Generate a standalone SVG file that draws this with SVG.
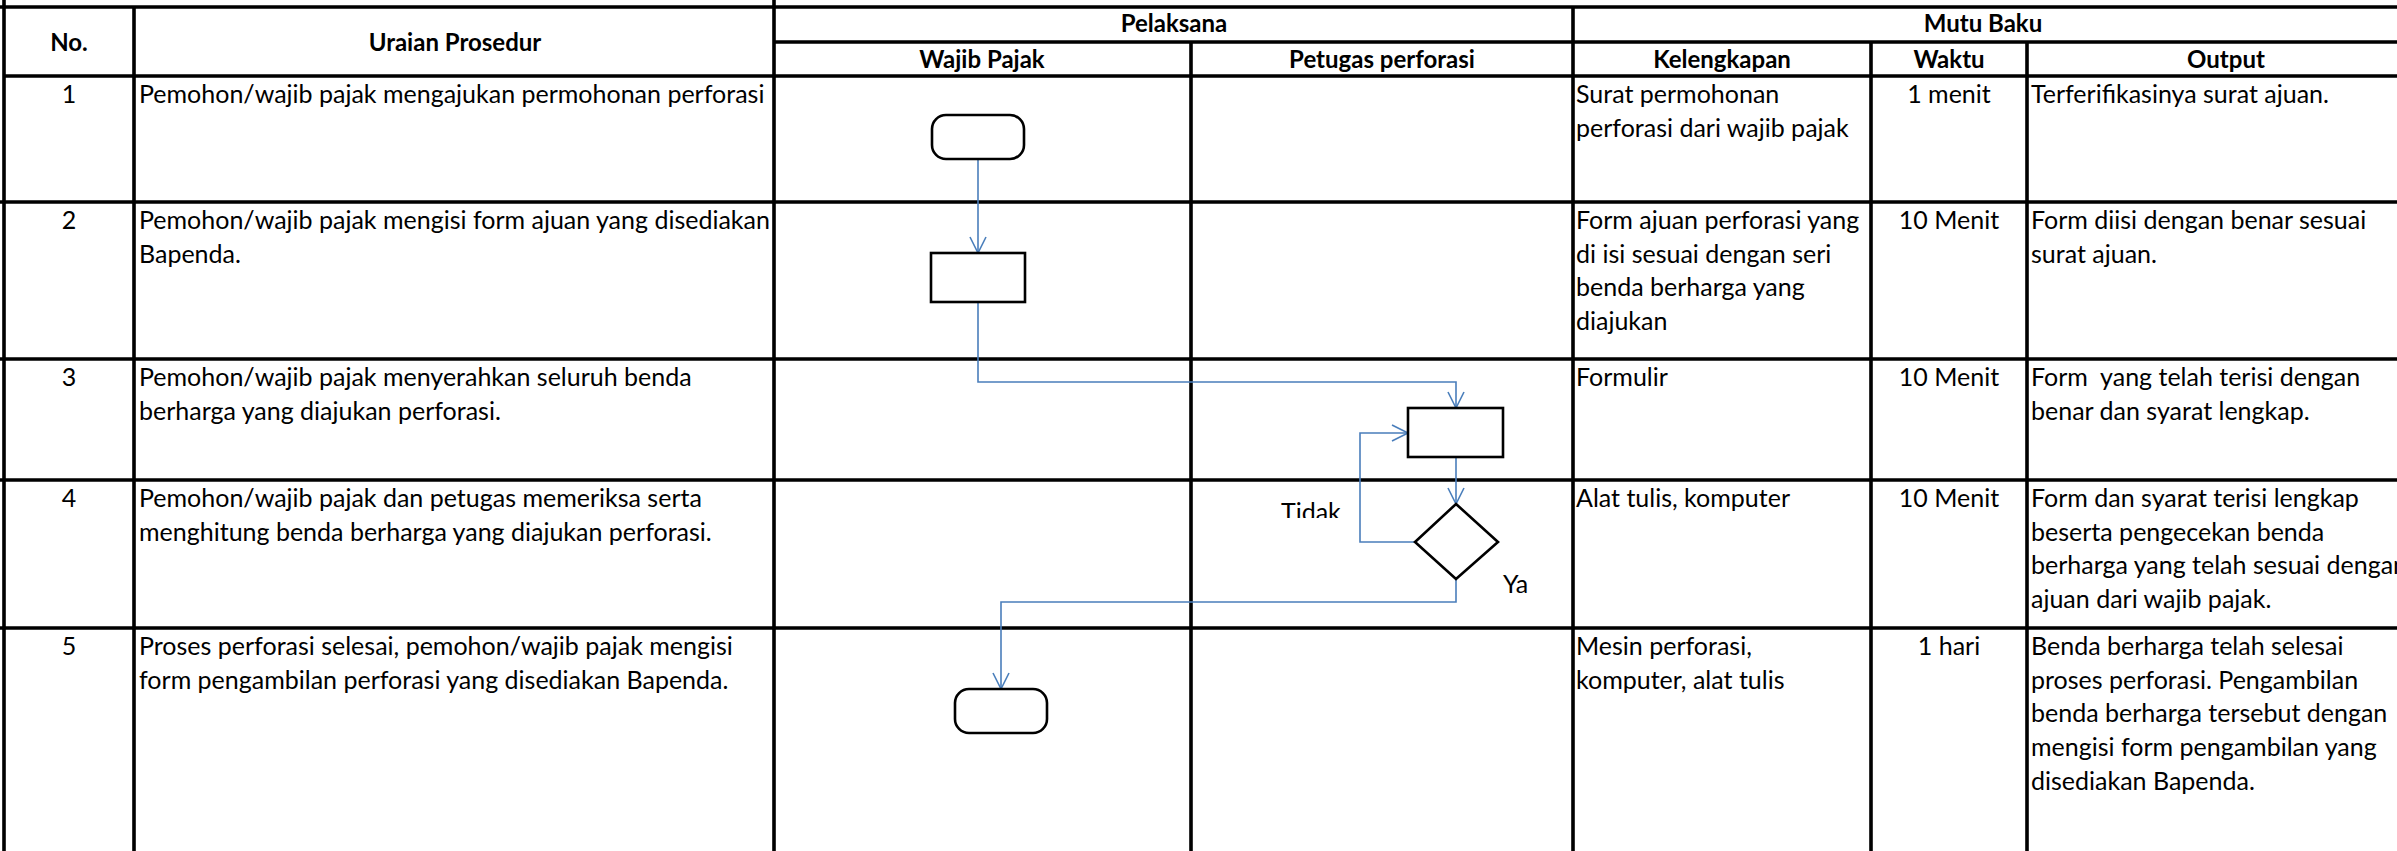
<svg xmlns="http://www.w3.org/2000/svg" width="2397" height="851" viewBox="0 0 2397 851">
<style>
.grid{stroke:#000;stroke-width:3.6;fill:none}
.t{font-family:Lato,"Liberation Sans",sans-serif;font-size:25px;fill:#000}
.h{font-family:Lato,"Liberation Sans",sans-serif;font-size:24px;font-weight:bold;fill:#000;text-anchor:middle}
.c{text-anchor:middle}
.shape{fill:#fff;stroke:#000;stroke-width:2.6}
.conn{fill:none;stroke:#4A7EBB;stroke-width:1.6}
</style>
<defs>
<marker id="arr" viewBox="-18 -10 20 20" refX="0" refY="0" markerWidth="20" markerHeight="20" markerUnits="userSpaceOnUse" orient="auto">
<path d="M-16,-8 L0,0 L-16,8" fill="none" stroke="#4A7EBB" stroke-width="1.6"/>
</marker>
<clipPath id="clipTidak"><rect x="1260" y="490" width="100" height="28"/></clipPath>
</defs>
<rect width="2397" height="851" fill="#fff"/>
<g id="table">
<path class="grid" d="M0,7 H2397 M774,42 H2397 M4,76 H2397 M0,202 H2397 M0,359 H2397 M0,480 H2397 M0,628 H2397"/>
<path class="grid" d="M4,0 V851 M134,7 V851 M774,0 V851 M1191,42 V851 M1573,7 V851 M1871,42 V851 M2027,42 V851"/>
</g>
<g id="headers">
<text class="h" x="69" y="51">No.</text>
<text class="h" x="455" y="51">Uraian Prosedur</text>
<text class="h" x="1174" y="32">Pelaksana</text>
<text class="h" x="982" y="68">Wajib Pajak</text>
<text class="h" x="1382" y="68">Petugas perforasi</text>
<text class="h" x="1983" y="32">Mutu Baku</text>
<text class="h" x="1722" y="68">Kelengkapan</text>
<text class="h" x="1949" y="68">Waktu</text>
<text class="h" x="2226" y="68">Output</text>
</g>
<g id="row1">
<text class="t c" x="69" y="103">1</text>
<text class="t" x="139" y="103">Pemohon/wajib pajak mengajukan permohonan perforasi</text>
<text class="t" x="1576" y="103">Surat permohonan</text>
<text class="t" x="1576" y="137">perforasi dari wajib pajak</text>
<text class="t c" x="1949" y="103">1 menit</text>
<text class="t" x="2031" y="103">Terferifikasinya surat ajuan.</text>
</g>
<g id="row2">
<text class="t c" x="69" y="229">2</text>
<text class="t" x="139" y="229">Pemohon/wajib pajak mengisi form ajuan yang disediakan</text>
<text class="t" x="139" y="263">Bapenda.</text>
<text class="t" x="1576" y="229">Form ajuan perforasi yang</text>
<text class="t" x="1576" y="263">di isi sesuai dengan seri</text>
<text class="t" x="1576" y="296">benda berharga yang</text>
<text class="t" x="1576" y="330">diajukan</text>
<text class="t c" x="1949" y="229">10 Menit</text>
<text class="t" x="2031" y="229">Form diisi dengan benar sesuai</text>
<text class="t" x="2031" y="263">surat ajuan.</text>
</g>
<g id="row3">
<text class="t c" x="69" y="386">3</text>
<text class="t" x="139" y="386">Pemohon/wajib pajak menyerahkan seluruh benda</text>
<text class="t" x="139" y="420">berharga yang diajukan perforasi.</text>
<text class="t" x="1576" y="386">Formulir</text>
<text class="t c" x="1949" y="386">10 Menit</text>
<text class="t" x="2031" y="386" xml:space="preserve">Form  yang telah terisi dengan</text>
<text class="t" x="2031" y="420">benar dan syarat lengkap.</text>
</g>
<g id="row4">
<text class="t c" x="69" y="507">4</text>
<text class="t" x="139" y="507">Pemohon/wajib pajak dan petugas memeriksa serta</text>
<text class="t" x="139" y="541">menghitung benda berharga yang diajukan perforasi.</text>
<text class="t" x="1576" y="507">Alat tulis, komputer</text>
<text class="t c" x="1949" y="507">10 Menit</text>
<text class="t" x="2031" y="507">Form dan syarat terisi lengkap</text>
<text class="t" x="2031" y="541">beserta pengecekan benda</text>
<text class="t" x="2031" y="574">berharga yang telah sesuai dengan</text>
<text class="t" x="2031" y="608">ajuan dari wajib pajak.</text>
</g>
<g id="row5">
<text class="t c" x="69" y="655">5</text>
<text class="t" x="139" y="655">Proses perforasi selesai, pemohon/wajib pajak mengisi</text>
<text class="t" x="139" y="689">form pengambilan perforasi yang disediakan Bapenda.</text>
<text class="t" x="1576" y="655">Mesin perforasi,</text>
<text class="t" x="1576" y="689">komputer, alat tulis</text>
<text class="t c" x="1949" y="655">1 hari</text>
<text class="t" x="2031" y="655">Benda berharga telah selesai</text>
<text class="t" x="2031" y="689">proses perforasi. Pengambilan</text>
<text class="t" x="2031" y="722">benda berharga tersebut dengan</text>
<text class="t" x="2031" y="756">mengisi form pengambilan yang</text>
<text class="t" x="2031" y="790">disediakan Bapenda.</text>
</g>
<g id="connectors">
<path class="conn" d="M978,159 V253" marker-end="url(#arr)"/>
<path class="conn" d="M978,302 V382 H1456 V408" marker-end="url(#arr)"/>
<path class="conn" d="M1456,457 V504" marker-end="url(#arr)"/>
<path class="conn" d="M1415,542 H1360 V433 H1408" marker-end="url(#arr)"/>
<path class="conn" d="M1456,579 V602 H1001 V689" marker-end="url(#arr)"/>
</g>
<g id="start"><rect class="shape" x="932" y="115" width="92" height="44" rx="14"/></g>
<g id="isi-form"><rect class="shape" x="931" y="253" width="94" height="49"/></g>
<g id="serah"><rect class="shape" x="1408" y="408" width="95" height="49"/></g>
<g id="periksa"><polygon class="shape" points="1456,504 1498,542 1456,579 1415,542"/></g>
<g id="end"><rect class="shape" x="955" y="689" width="92" height="44" rx="14"/></g>
<g id="labels">
<text class="t" x="1281" y="521" clip-path="url(#clipTidak)">Tidak</text>
<text class="t" x="1503" y="593">Ya</text>
</g>
</svg>
